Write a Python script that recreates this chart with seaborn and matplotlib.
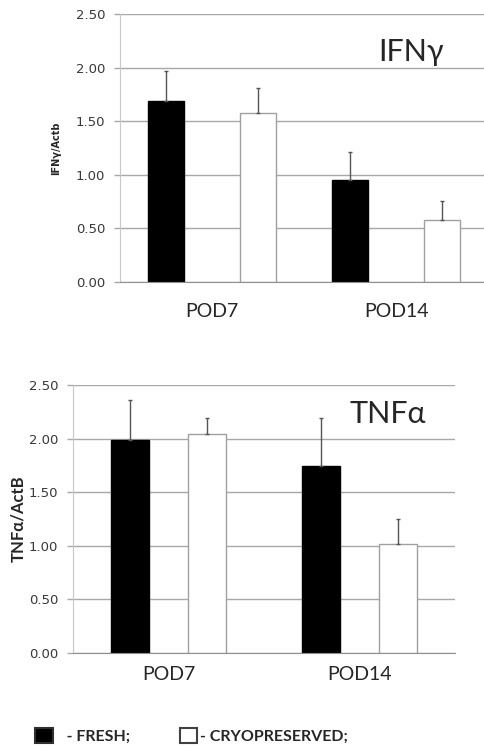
import pandas as pd
import matplotlib.pyplot as plt
import seaborn as sns
from matplotlib.patches import Patch

sns.set_style("white")
plt.rcParams['font.family'] = ['Lato', 'DejaVu Sans']

# Dados
categorias = ["POD7", "POD14"]
grupos = ["FRESH", "CRYOPRESERVED"]

ifng_fresh = [1.69, 0.95]
ifng_cryo = [1.58, 0.58]
ifng_err_fresh = [0.28, 0.26]
ifng_err_cryo = [0.23, 0.18]

tnfa_fresh = [1.99, 1.74]
tnfa_cryo = [2.04, 1.02]
tnfa_err_fresh = [0.37, 0.45]
tnfa_err_cryo = [0.15, 0.23]

cores = {"FRESH": "black", "CRYOPRESERVED": "white"}
bordas = {"FRESH": "black", "CRYOPRESERVED": "#a0a0a0"}


def monta_df(fresh, cryo):
    return pd.DataFrame({
        "dia": categorias * 2,
        "grupo": [grupos[0]] * 2 + [grupos[1]] * 2,
        "valor": fresh + cryo,
    })


def painel(ax, df, erros, titulo, ylabel, ylabel_font, width, gap, pad_x, pos_titulo):
    sns.barplot(data=df, x="dia", y="valor", hue="grupo", order=categorias,
                hue_order=grupos, palette=cores, width=width, gap=gap,
                errorbar=None, legend=False, ax=ax, saturation=1, zorder=3)
    for cont, g, err in zip(ax.containers, grupos, erros):
        for bar, e in zip(cont, err):
            bar.set_edgecolor(bordas[g])
            bar.set_linewidth(1)
            xc = bar.get_x() + bar.get_width() / 2
            ax.errorbar(xc, bar.get_height(), yerr=[[0], [e]], color="#555555",
                        lw=1, capsize=1.2, capthick=1, zorder=4)
    ax.set_ylim(0, 2.5)
    ax.set_xlim(-0.5, 1.5)
    ax.set_yticks([0, 0.5, 1.0, 1.5, 2.0, 2.5])
    ax.set_yticklabels([f"{v:.2f}" for v in ax.get_yticks()],
                       family="DejaVu Sans", fontsize=9.5, color="#383838")
    ax.yaxis.grid(True, color="#a8a8a8", lw=1, zorder=0)
    ax.tick_params(axis="y", length=4, width=1, color="#a8a8a8", pad=6.5, left=True)
    ax.tick_params(axis="x", length=0, pad=pad_x, labelsize=14)
    ax.set_xlabel("")
    ax.set_ylabel(ylabel, **ylabel_font)
    for s in ["top", "right"]:
        ax.spines[s].set_visible(False)
    ax.spines["left"].set_color("#c8c8c8")
    ax.spines["bottom"].set_color("#909090")
    ax.spines["bottom"].set_zorder(5)
    ax.text(pos_titulo[0], pos_titulo[1], titulo, transform=ax.transAxes,
            fontsize=22, ha="center", va="baseline")


fig = plt.figure(figsize=(4.84, 7.46), dpi=100)

ax1 = fig.add_axes([120 / 484, 1 - 282 / 746, 368 / 484, 268 / 746])
painel(ax1, monta_df(ifng_fresh, ifng_cryo), [ifng_err_fresh, ifng_err_cryo],
       "IFNγ", "IFNγ/Actb",
       dict(family="DejaVu Sans", fontsize=7, fontweight="bold", labelpad=10.5),
       width=1.0, gap=0.61, pad_x=15, pos_titulo=(0.79, 0.825))

ax2 = fig.add_axes([73 / 484, 1 - 653 / 746, 382 / 484, 268 / 746])
painel(ax2, monta_df(tnfa_fresh, tnfa_cryo), [tnfa_err_fresh, tnfa_err_cryo],
       "TNFα", "TNFα/ActB",
       dict(fontsize=12, fontweight="bold", labelpad=2),
       width=0.8, gap=0.5, pad_x=9, pos_titulo=(0.825, 0.858))

# Legenda
handles = [Patch(facecolor="black", edgecolor="#303030", lw=1.5),
           Patch(facecolor="white", edgecolor="#404040", lw=1.5)]
fig.legend(handles, ["   - FRESH;", "- CRYOPRESERVED;"], ncol=2,
           loc="center left", bbox_to_anchor=(35 / 484, 1 - 736 / 746),
           frameon=False, borderpad=0, borderaxespad=0, handlelength=1.1,
           handleheight=1.1, handletextpad=0.15, columnspacing=3.1,
           prop=dict(family="Lato", weight="bold", size=11.5))

plt.savefig("out.png", dpi=100)
plt.close()
